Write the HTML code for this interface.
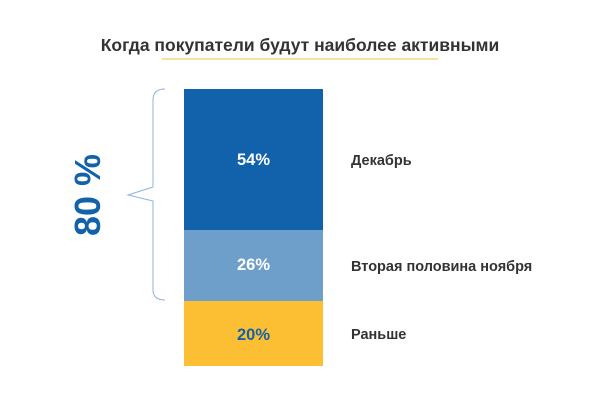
<!DOCTYPE html>
<html><head><meta charset="utf-8"><style>
body{margin:0;background:#fff;width:600px;height:400px;overflow:hidden}
</style></head><body>
<svg width="600" height="400" xmlns="http://www.w3.org/2000/svg" font-family="'Liberation Sans', 'Noto Sans CJK SC', sans-serif" font-weight="bold">
<text x="300" y="51" text-anchor="middle" font-size="17.5" fill="#333">Когда покупатели будут наиболее активными</text>
<line x1="162" y1="59" x2="438" y2="59" stroke="#f0c040" stroke-width="1"/>
<rect x="184" y="89" width="139" height="141" fill="#1262ab"/>
<rect x="184" y="230" width="139" height="71" fill="#6e9fcb"/>
<rect x="184" y="301" width="139" height="65" fill="#fcbf33"/>
<text x="253.5" y="165" text-anchor="middle" font-size="16.5" fill="#fff">54%</text>
<text x="253.5" y="270" text-anchor="middle" font-size="16.5" fill="#fff">26%</text>
<text x="253.5" y="340" text-anchor="middle" font-size="16.5" fill="#1262ab">20%</text>
<text x="351" y="165" font-size="14.5" fill="#333">Декабрь</text>
<text x="351" y="271" font-size="14.5" fill="#333">Вторая половина ноября</text>
<text x="351" y="339" font-size="14.5" fill="#333">Раньше</text>
<path d="M165 89 Q153 89 153 100 L153 187 L128 195 L153 201 L153 290 Q153 300 165 300" fill="none" stroke="#8fb3d9" stroke-width="1"/>
<text transform="translate(100,195) rotate(-90)" text-anchor="middle" font-size="36" fill="#1262ab">80 %</text>
</svg>
</body></html>
